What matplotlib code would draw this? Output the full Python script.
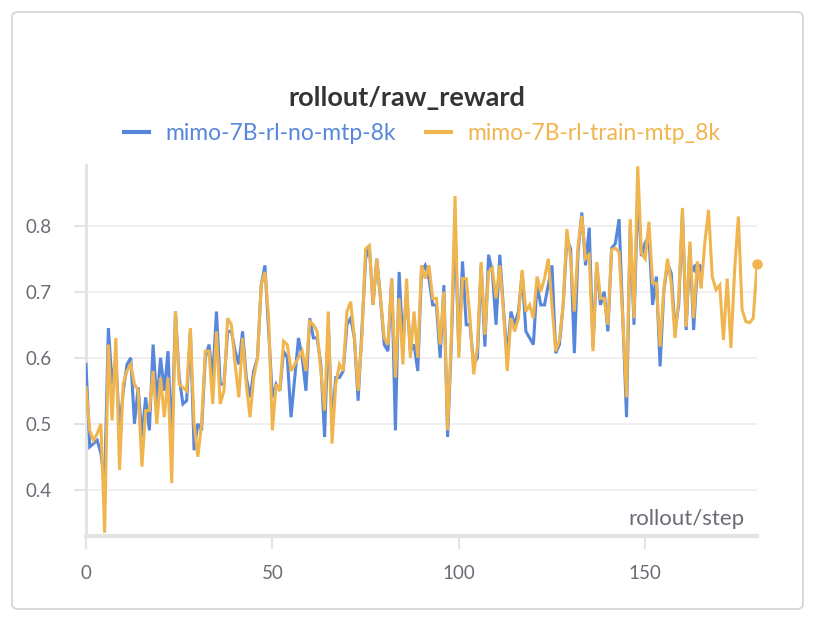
import numpy as np
import matplotlib.pyplot as plt
from matplotlib.patches import FancyBboxPatch

# ======================
# DATA
# ======================
TITLE = "rollout/raw_reward"
X_LABEL = "rollout/step"
RUN_NAMES = ["mimo-7B-rl-no-mtp-8k", "mimo-7B-rl-train-mtp_8k"]
RUN_COLORS = ["#5687DB", "#F0B54E"]

no_mtp = [
    0.59, 0.465, 0.47, 0.475, 0.455, 0.41, 0.645, 0.56, 0.60, 0.49,
    0.55, 0.59, 0.60, 0.50, 0.555, 0.48, 0.54, 0.49, 0.62, 0.53,
    0.60, 0.55, 0.61, 0.47, 0.67, 0.57, 0.53, 0.535, 0.64, 0.46,
    0.50, 0.49, 0.60, 0.62, 0.57, 0.67, 0.56, 0.56, 0.64, 0.64,
    0.61, 0.59, 0.64, 0.57, 0.54, 0.58, 0.60, 0.71, 0.74, 0.64,
    0.54, 0.56, 0.55, 0.61, 0.60, 0.51, 0.57, 0.63, 0.60, 0.55,
    0.66, 0.63, 0.63, 0.59, 0.48, 0.65, 0.50, 0.57, 0.57, 0.58,
    0.65, 0.66, 0.63, 0.535, 0.64, 0.75, 0.77, 0.68, 0.75, 0.69,
    0.62, 0.61, 0.72, 0.49, 0.73, 0.62, 0.70, 0.61, 0.62, 0.58,
    0.73, 0.74, 0.72, 0.68, 0.68, 0.60, 0.71, 0.48, 0.62, 0.80,
    0.61, 0.746, 0.65, 0.65, 0.59, 0.60, 0.74, 0.617, 0.756, 0.73,
    0.65, 0.756, 0.673, 0.60, 0.67, 0.65, 0.67, 0.728, 0.64, 0.63,
    0.62, 0.71, 0.68, 0.68, 0.71, 0.74, 0.607, 0.62, 0.68, 0.78,
    0.765, 0.607, 0.76, 0.82, 0.74, 0.797, 0.617, 0.74, 0.68, 0.70,
    0.64, 0.766, 0.773, 0.81, 0.66, 0.51, 0.80, 0.65, 0.85, 0.754,
    0.774, 0.784, 0.68, 0.723, 0.587, 0.70, 0.743, 0.728, 0.642, 0.68,
    0.82, 0.642, 0.77, 0.642, 0.736,
]

train_mtp = [
    0.555, 0.49, 0.475, 0.485, 0.50, 0.335, 0.62, 0.505, 0.63, 0.43,
    0.56, 0.58, 0.59, 0.56, 0.55, 0.435, 0.52, 0.52, 0.58, 0.50,
    0.57, 0.51, 0.57, 0.41, 0.67, 0.56, 0.555, 0.55, 0.645, 0.50,
    0.45, 0.50, 0.61, 0.61, 0.53, 0.64, 0.53, 0.55, 0.66, 0.65,
    0.59, 0.54, 0.63, 0.56, 0.51, 0.57, 0.60, 0.71, 0.73, 0.66,
    0.49, 0.56, 0.55, 0.625, 0.62, 0.58, 0.59, 0.60, 0.61, 0.58,
    0.655, 0.65, 0.64, 0.58, 0.52, 0.67, 0.47, 0.56, 0.59, 0.58,
    0.67, 0.685, 0.63, 0.55, 0.63, 0.765, 0.77, 0.68, 0.75, 0.69,
    0.63, 0.62, 0.72, 0.57, 0.69, 0.59, 0.72, 0.60, 0.67, 0.60,
    0.74, 0.72, 0.74, 0.69, 0.69, 0.62, 0.70, 0.49, 0.63, 0.845,
    0.60, 0.72, 0.72, 0.66, 0.575, 0.617, 0.745, 0.635, 0.73, 0.736,
    0.69, 0.74, 0.67, 0.58, 0.66, 0.64, 0.66, 0.733, 0.67, 0.68,
    0.66, 0.723, 0.70, 0.72, 0.75, 0.68, 0.61, 0.627, 0.68, 0.795,
    0.75, 0.67, 0.77, 0.815, 0.75, 0.756, 0.61, 0.745, 0.69, 0.69,
    0.65, 0.764, 0.766, 0.76, 0.66, 0.54, 0.81, 0.66, 0.89, 0.758,
    0.75, 0.806, 0.713, 0.713, 0.617, 0.703, 0.75, 0.713, 0.63, 0.69,
    0.827, 0.647, 0.776, 0.66, 0.746, 0.705, 0.774, 0.824, 0.723, 0.703,
    0.71, 0.627, 0.72, 0.615, 0.733, 0.814, 0.673, 0.655, 0.653, 0.66,
    0.742,
]

x_ticks = [0, 50, 100, 150]
y_ticks = [0.4, 0.5, 0.6, 0.7, 0.8]

# ======================
# STYLE
# ======================
plt.rcParams["font.family"] = ["Lato", "DejaVu Sans"]
GRAY_TEXT = "#6b6b75"
LIGHT = "#e4e4e4"

fig = plt.figure(figsize=(8.14, 6.24), dpi=100)
fig.patch.set_facecolor("white")

# outer card
card = FancyBboxPatch(
    (12 / 814, 15 / 624), 791 / 814, 597 / 624,
    boxstyle="round,pad=0,rounding_size=0.008",
    transform=fig.transFigure, facecolor="white",
    edgecolor="#d6d6d6", linewidth=1.3, zorder=-5,
)
fig.patches.append(card)

ax = fig.add_axes([86 / 814, 1 - 536 / 624, (757 - 86) / 814, (536 - 165) / 624])
ax.set_xlim(0, 180)
ax.set_ylim(0.33, 0.892)

# ======================
# LINES
# ======================
steps_a = np.arange(len(no_mtp))
steps_b = np.arange(len(train_mtp))

ax.plot(steps_a, no_mtp, color=RUN_COLORS[0], lw=2.2, solid_joinstyle="miter",
        label=RUN_NAMES[0], zorder=3)
ax.plot(steps_a[-1], no_mtp[-1], "o", color=RUN_COLORS[0], ms=6.5, zorder=3,
        clip_on=False)
ax.plot(steps_b, train_mtp, color=RUN_COLORS[1], lw=2.2, solid_joinstyle="miter",
        label=RUN_NAMES[1], zorder=4)
ax.plot(steps_b[-1], train_mtp[-1], "o", color=RUN_COLORS[1], ms=6.5, zorder=4,
        clip_on=False)

# ======================
# AXES
# ======================
ax.set_xticks(x_ticks)
ax.set_yticks(y_ticks)
ax.set_yticklabels([f"{v:.1f}" for v in y_ticks])
ax.grid(axis="y", color="#ececec", lw=1.1)
ax.tick_params(axis="both", colors=LIGHT, labelcolor=GRAY_TEXT, labelsize=13.5,
               length=9, width=1.5)
ax.tick_params(axis="y", pad=16)
ax.tick_params(axis="x", pad=12)
for side in ["top", "right"]:
    ax.spines[side].set_visible(False)
ax.spines["left"].set_color(LIGHT)
ax.spines["left"].set_linewidth(2.2)
ax.spines["bottom"].set_color(LIGHT)
ax.spines["bottom"].set_linewidth(3)

ax.text(0.982, 0.018, X_LABEL, transform=ax.transAxes, ha="right", va="bottom",
        fontsize=16, color=GRAY_TEXT)

# ======================
# TITLE + LEGEND
# ======================
fig.text(407 / 814, 1 - 98 / 624, TITLE, ha="center", va="center",
         fontsize=19.5, fontweight="bold", color="#343434")

leg = fig.legend(
    loc="center", bbox_to_anchor=(422 / 814, 1 - 134 / 624), ncol=2,
    frameon=False, fontsize=16.5, handlelength=1.1, handletextpad=0.7,
    columnspacing=1.3, labelcolor="linecolor",
)
for line in leg.get_lines():
    line.set_linewidth(3)

fig.savefig("out.png", dpi=100, facecolor="white")
